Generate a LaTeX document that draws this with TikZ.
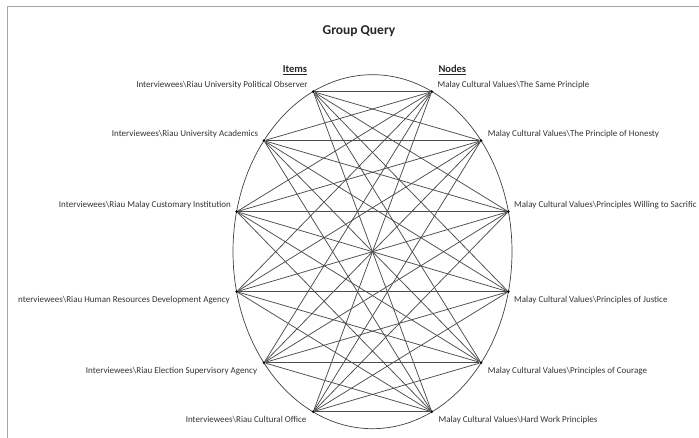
\documentclass[tikz,border=0pt]{standalone}
\usepackage{fontspec}
\setmainfont{Carlito}
\usetikzlibrary{positioning}
\tikzset{
    punto/.style={
        circle,                   % punto de unión sobre la elipse
        fill=black,               % relleno negro sólido
        inner sep=0pt,            % sin margen interior
        minimum size=3pt          % tamaño pequeño (apenas un punto)
    },
    etiqueta/.style={
        font=\fontsize{9}{10}\selectfont, % letra pequeña como en la captura
        text=black!80,            % gris muy oscuro
        inner sep=0pt,            % el texto pegado a su ancla
        text height=6pt,          % altura fija → todas las filas iguales
        text depth=1.5pt
    },
    cabecera/.style={
        font=\fontsize{10.5}{12}\selectfont\bfseries, % negrita algo mayor
        text=black!85,
        inner sep=0pt
    },
    enlace/.style={
        draw=black!70,            % línea gris oscura
        line width=0.75pt         % fina pero visible
    }
}

\begin{document}
\begin{tikzpicture}[x=1pt,y=1pt]
    \useasboundingbox (0,0) rectangle (699,438);
    % marco de la ventana (solo arriba e izquierda)
    \draw[gray!70, line width=1.2pt] (7.3,0) -- (7.3,431.3) -- (699,431.3);

    \node[cabecera, font=\fontsize{13.5}{15}\selectfont\bfseries, anchor=base] (titulo) at (359,403) {Group Query};
    \node[cabecera, anchor=base east] (items) at (307.3,365.7) {\underline{Items}};
    \node[cabecera, anchor=base west] (nodos) at (438.3,365.7) {\underline{Nodes}};

    \draw[black!75, line width=0.7pt] (372.5,186.3) ellipse [x radius=139.5, y radius=177];

    % entrevistados (izquierda)
    \node[punto] (I1) at (313.3,346.3) {};
    \node[punto] (I2) at (264.0,297.3) {};
    \node[punto] (I3) at (236.7,226.3) {};
    \node[punto] (I4) at (236.7,146.3) {};
    \node[punto] (I5) at (264.0,75.3) {};
    \node[punto] (I6) at (313.3,26.3) {};
    % valores culturales (derecha)
    \node[punto] (V1) at (431.7,346.3) {};
    \node[punto] (V2) at (481.0,297.3) {};
    \node[punto] (V3) at (508.3,226.3) {};
    \node[punto] (V4) at (508.3,146.3) {};
    \node[punto] (V5) at (481.0,75.3) {};
    \node[punto] (V6) at (431.7,26.3) {};

    \node[etiqueta, left=4pt of I1, yshift=6.7pt] (tI1) {Interviewees\textbackslash Riau University Political Observer};
    \node[etiqueta, left=4pt of I2, yshift=6.7pt] (tI2) {Interviewees\textbackslash Riau University Academics};
    \node[etiqueta, left=4pt of I3, yshift=6.7pt] (tI3) {Interviewees\textbackslash Riau Malay Customary Institution};
    \node[etiqueta, left=5pt of I4, yshift=-8.7pt] (tI4) {nterviewees\textbackslash Riau Human Resources Development Agency};
    \node[etiqueta, left=5pt of I5, yshift=-8.7pt] (tI5) {Interviewees\textbackslash Riau Election Supervisory Agency};
    \node[etiqueta, left=5pt of I6, yshift=-8.7pt] (tI6) {Interviewees\textbackslash Riau Cultural Office};

    \node[etiqueta, right=4pt of V1, yshift=6.7pt] (tV1) {Malay Cultural Values\textbackslash The Same Principle};
    \node[etiqueta, right=5pt of V2, yshift=6.7pt] (tV2) {Malay Cultural Values\textbackslash The Principle of Honesty};
    \node[etiqueta, right=4pt of V3, yshift=6.7pt] (tV3) {Malay Cultural Values\textbackslash Principles Willing to Sacrific};
    \node[etiqueta, right=4pt of V4, yshift=-8.7pt] (tV4) {Malay Cultural Values\textbackslash Principles of Justice};
    \node[etiqueta, right=5pt of V5, yshift=-8.7pt] (tV5) {Malay Cultural Values\textbackslash Principles of Courage};
    \node[etiqueta, right=5pt of V6, yshift=-8.7pt] (tV6) {Malay Cultural Values\textbackslash Hard Work Principles};

    % cada entrevistado con cada valor
    \foreach \i in {1,...,6}
        \foreach \j in {1,...,6}
            \draw[enlace] (I\i) -- (V\j);
\end{tikzpicture}
\end{document}
